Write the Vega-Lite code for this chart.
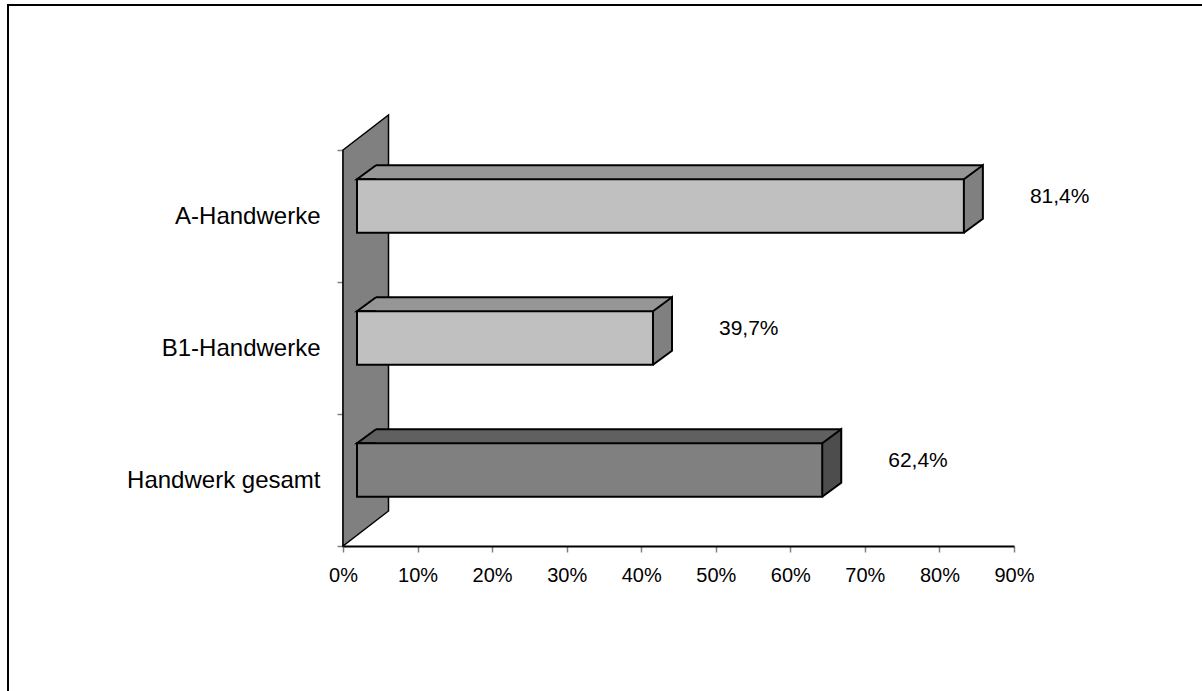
{
  "$schema": "https://vega.github.io/schema/vega-lite/v6.json",
  "width": 671,
  "height": 396,
  "autosize": {"type": "none"},
  "padding": {"left": 343, "top": 150, "right": 188, "bottom": 145},
  "background": "white",
  "config": {
    "view": {"stroke": null},
    "font": "Liberation Sans",
    "locale": {"number": {"decimal": ",", "thousands": ".", "grouping": [3], "currency": ["", " €"]}}
  },
  "data": {"values": [
    {"cat": "A-Handwerke", "value": 0.814},
    {"cat": "B1-Handwerke", "value": 0.397},
    {"cat": "Handwerk gesamt", "value": 0.624}
  ]},
  "encoding": {
    "y": {
      "field": "cat", "type": "nominal", "sort": null,
      "scale": {"domain": ["A-Handwerke", "B1-Handwerke", "Handwerk gesamt"], "paddingInner": 0, "paddingOuter": 0},
      "axis": {"title": null, "tickBand": "extent", "domainColor": "black", "domainWidth": 2, "tickColor": "#808080", "tickSize": 6, "tickWidth": 1.5, "labelFont": "Liberation Sans", "labelFontSize": 24, "labelColor": "black", "labelPadding": 17, "labelLimit": 400, "grid": false}
    },
    "x": {
      "field": "value", "type": "quantitative",
      "scale": {"domain": [0, 0.9], "nice": false, "zero": true},
      "axis": {"title": null, "format": ".0%", "values": [0, 0.1, 0.2, 0.3, 0.4, 0.5, 0.6, 0.7, 0.8, 0.9], "domainColor": "black", "domainWidth": 2, "tickColor": "#808080", "tickSize": 6, "tickWidth": 1.5, "labelFont": "Liberation Sans", "labelFontSize": 20, "labelColor": "black", "labelPadding": 13, "labelFlush": false, "labelOverlap": false, "grid": false}
    }
  },
  "layer": [
    {
      "transform": [{"filter": "datum.cat === 'Handwerk gesamt'"}],
      "mark": {"type": "point", "shape": "M-335,220 L-335,-475 L870,-475", "size": 4, "filled": false, "color": "black", "stroke": "black", "strokeWidth": 2, "opacity": 1},
      "encoding": {"x": {"datum": 0}}
    },
    {
      "transform": [{"filter": "datum.cat === 'Handwerk gesamt'"}],
      "mark": {"type": "point", "shape": "M0,-330 L45.5,-365 L45.5,31 L0,66 Z", "size": 4, "filled": true, "fill": "#808080", "stroke": "black", "strokeWidth": 1.5, "opacity": 1},
      "encoding": {"x": {"datum": 0}}
    },
    {
      "mark": {"type": "bar", "xOffset": 33, "x2Offset": 33, "yOffset": -43.75, "height": 14, "opacity": 1},
      "encoding": {
        "fill": {"field": "cat", "type": "nominal", "scale": {"domain": ["A-Handwerke", "B1-Handwerke", "Handwerk gesamt"], "range": ["#969696", "#969696", "#606060"]}, "legend": null}
      }
    },
    {
      "mark": {"type": "point", "shape": "M19,-36.75 L0,-36.75 L19,-50.75", "size": 4, "filled": true, "xOffset": 14, "stroke": "black", "strokeWidth": 2, "opacity": 1},
      "encoding": {
        "x": {"datum": 0},
        "fill": {"field": "cat", "type": "nominal", "scale": {"domain": ["A-Handwerke", "B1-Handwerke", "Handwerk gesamt"], "range": ["#969696", "#969696", "#606060"]}, "legend": null}
      }
    },
    {
      "mark": {"type": "point", "shape": "M0,-36.75 L19,-50.75 L19,2.75 L0,16.75", "size": 4, "filled": true, "xOffset": 14, "stroke": "black", "strokeWidth": 2, "opacity": 1},
      "encoding": {
        "fill": {"field": "cat", "type": "nominal", "scale": {"domain": ["A-Handwerke", "B1-Handwerke", "Handwerk gesamt"], "range": ["#808080", "#808080", "#4d4d4d"]}, "legend": null}
      }
    },
    {
      "mark": {"type": "bar", "xOffset": 14, "x2Offset": 14, "yOffset": -10, "height": 53.5, "stroke": "black", "strokeWidth": 2, "opacity": 1},
      "encoding": {
        "fill": {"field": "cat", "type": "nominal", "scale": {"domain": ["A-Handwerke", "B1-Handwerke", "Handwerk gesamt"], "range": ["#c0c0c0", "#c0c0c0", "#808080"]}, "legend": null}
      }
    },
    {
      "mark": {"type": "rule", "xOffset": 33, "x2Offset": 33, "yOffset": -50.75, "stroke": "black", "strokeWidth": 2},
      "encoding": {"x2": {"datum": 0}}
    },
    {
      "mark": {"type": "text", "align": "left", "baseline": "middle", "dx": 80, "dy": -19, "font": "Liberation Sans", "fontSize": 21, "color": "black"},
      "encoding": {"text": {"field": "value", "type": "quantitative", "format": ".1%"}}
    }
  ],
  "resolve": {"scale": {"fill": "independent"}}
}
